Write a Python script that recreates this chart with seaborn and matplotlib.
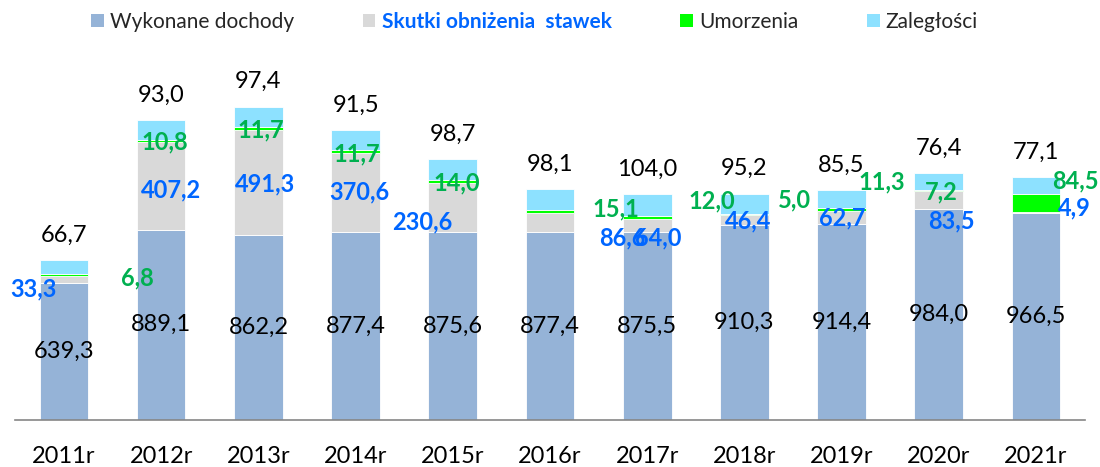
import numpy as np
import pandas as pd
import seaborn as sns
import matplotlib.pyplot as plt
from matplotlib.patches import Patch

# values (mln zł)
years = ["2011r", "2012r", "2013r", "2014r", "2015r", "2016r",
         "2017r", "2018r", "2019r", "2020r", "2021r"]
dochody = [639.3, 889.1, 862.2, 877.4, 875.6, 877.4, 875.5, 910.3, 914.4, 984.0, 966.5]
skutki = [33.3, 407.2, 491.3, 370.6, 230.6, 86.6, 64.0, 46.4, 62.7, 83.5, 4.9]
umorzenia = [6.8, 10.8, 11.7, 11.7, 14.0, 15.1, 12.0, 5.0, 11.3, 7.2, 84.5]
zaleglosci = [66.7, 93.0, 97.4, 91.5, 98.7, 98.1, 104.0, 95.2, 85.5, 76.4, 77.1]

series_names = ["Wykonane dochody", "Skutki obniżenia  stawek", "Umorzenia", "Zaległości"]
colors = ["#95B3D7", "#D9D9D9", "#00FF00", "#8DE1FF"]
BLUE_TXT = "#0066FF"
GREEN_TXT = "#00B050"

df = pd.DataFrame({"rok": years, "dochody": dochody, "skutki": skutki,
                   "umorzenia": umorzenia, "zaleglosci": zaleglosci})
cols = ["dochody", "skutki", "umorzenia", "zaleglosci"]

sns.set_theme(style="white")
plt.rcParams["font.family"] = ["Lato", "DejaVu Sans"]

fig = plt.figure(figsize=(11, 4.67), dpi=100)
ax = fig.add_axes([0.014, 0.1006, 0.972, 0.780])

# stacked bars
bottom = np.zeros(len(years))
for col, color in zip(cols, colors):
    sns.barplot(data=df, x="rok", y=col, color=color, saturation=1, width=0.5,
                bottom=bottom, errorbar=None, edgecolor="white", linewidth=0.6, ax=ax)
    bottom = bottom + df[col].to_numpy()

ax.set_xlim(-0.5, len(years) - 0.5)
ax.set_ylim(0, 1700)
ax.set_xlabel("")
ax.set_ylabel("")
ax.set_yticks([])
for side in ["top", "left", "right"]:
    ax.spines[side].set_visible(False)
ax.spines["bottom"].set_color("#868686")
ax.spines["bottom"].set_linewidth(1.2)
ax.tick_params(axis="x", length=0, labelsize=17, pad=19, colors="black")


def fmt(v):
    return f"{v:.1f}".replace(".", ",")


# label offsets in pixels (manual placement like in the original)
gray_off = [(-31, -9), (10, -4), (7, -1), (4, 0), (-31, -14), (72, -15),
            (11, -12), (4, -1), (1, -1), (13, -21), (38, 4)]
green_off = [(73, -3), (4, -2), (2, -2), (1, -4), (4, -3), (66, 1),
             (65, 15), (50, 14), (40, 26), (3, -2), (39, 13)]

for i in range(len(years)):
    d, s, u, z = dochody[i], skutki[i], umorzenia[i], zaleglosci[i]
    # wykonane dochody - middle of segment
    ax.text(i, d / 2, fmt(d), ha="center", va="center", fontsize=17, color="black")
    # skutki
    ax.annotate(fmt(s), (i, d + s / 2), xytext=gray_off[i], textcoords="offset pixels",
                ha="center", va="center", fontsize=17, fontweight="bold", color=BLUE_TXT)
    # umorzenia
    ax.annotate(fmt(u), (i, d + s + u), xytext=green_off[i], textcoords="offset pixels",
                ha="center", va="center", fontsize=17, fontweight="bold", color=GREEN_TXT)
    # zaległości - above the bar
    ax.annotate(fmt(z), (i, d + s + u + z), xytext=(0, 25), textcoords="offset pixels",
                ha="center", va="center", fontsize=17, color="black", annotation_clip=False)

handles = [Patch(facecolor=c, edgecolor="none", label=n) for c, n in zip(colors, series_names)]
leg = fig.legend(handles=handles, loc="center", bbox_to_anchor=(0.486, 0.953), ncol=4,
                 frameon=False, fontsize=15, handlelength=0.6, handleheight=0.6,
                 handletextpad=0.3, columnspacing=3.3)
leg.get_texts()[1].set_color(BLUE_TXT)
leg.get_texts()[1].set_fontweight("bold")

fig.savefig("out.png", dpi=100)
